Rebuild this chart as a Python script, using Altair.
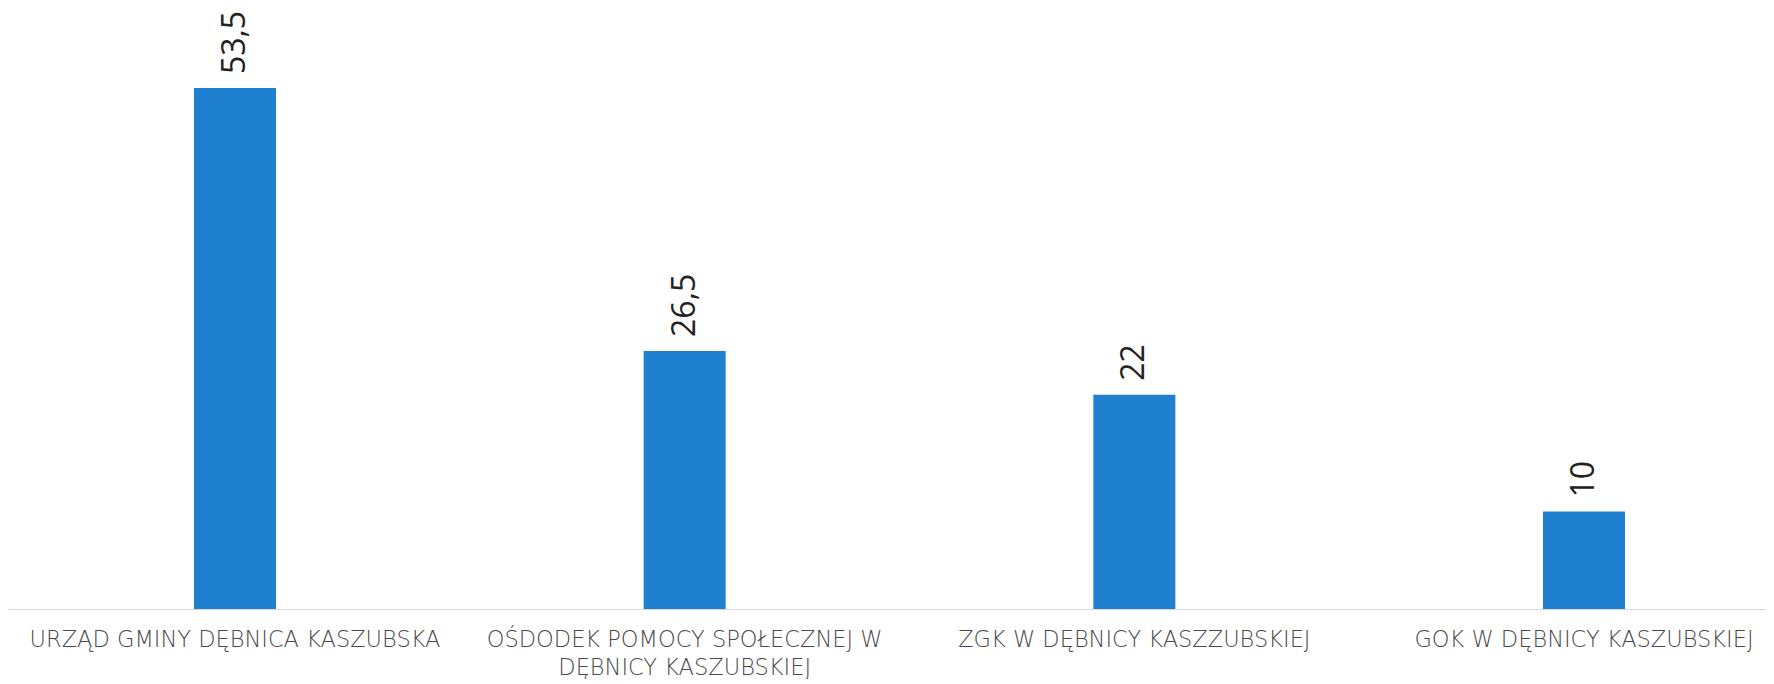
import altair as alt
import pandas as pd

categories = [
    "URZĄD GMINY DĘBNICA KASZUBSKA",
    "OŚDODEK POMOCY SPOŁECZNEJ W DĘBNICY KASZUBSKIEJ",
    "ZGK W DĘBNICY KASZZUBSKIEJ",
    "GOK W DĘBNICY KASZUBSKIEJ",
]
label_lines = [
    ["URZĄD GMINY DĘBNICA KASZUBSKA"],
    ["OŚDODEK POMOCY SPOŁECZNEJ W", "DĘBNICY KASZUBSKIEJ"],
    ["ZGK W DĘBNICY KASZZUBSKIEJ"],
    ["GOK W DĘBNICY KASZUBSKIEJ"],
]
values = [53.5, 26.5, 22, 10]

df = pd.DataFrame({"kat": categories, "wartosc": values})

parts = []
for c, lines in zip(categories, label_lines):
    arr = "[" + ",".join("'" + l + "'" for l in lines) + "]"
    parts.append(f"datum.value == '{c}' ? {arr} : ")
label_expr = "".join(parts) + "datum.value"

x = alt.X(
    "kat:N",
    sort=categories,
    scale=alt.Scale(range=[0, 1803], paddingInner=0.8176, paddingOuter=0.4136),
    axis=alt.Axis(
        title=None,
        labelAngle=0,
        labelExpr=label_expr,
        labelFont="DejaVu Sans",
        labelFontSize=22.5,
        labelFontWeight=200,
        labelColor="#4a4a4a",
        labelLimit=1000,
        labelLineHeight=28,
        labelPadding=19,
        labelBaseline="top",
        ticks=False,
        tickSize=0,
        domainColor="#d9d9d9",
        domainWidth=1,
        grid=False,
    ),
)
y = alt.Y(
    "wartosc:Q",
    scale=alt.Scale(domain=[0, 61.72], nice=False),
    axis=None,
)

bars = alt.Chart(df).mark_bar(color="#1f80d0").encode(x=x, y=y)

text = (
    alt.Chart(df)
    .transform_calculate(lbl="replace(toString(datum.wartosc), '.', ',')")
    .mark_text(
        angle=270,
        align="left",
        baseline="middle",
        dx=14,
        font="Open Sans",
        fontSize=32,
        color="#222222",
    )
    .encode(x=alt.X("kat:N", sort=categories), y=y, text="lbl:N")
)

chart = (
    alt.layer(bars, text)
    .properties(
        width=1758,
        height=601,
        background="white",
        autosize=alt.AutoSizeParams(type="none"),
        padding={"left": 0, "top": 0, "right": 0, "bottom": 70},
    )
    .configure_view(strokeWidth=0, stroke="transparent")
)

chart.save("out.html", embed_options={"renderer": "svg", "actions": False})
